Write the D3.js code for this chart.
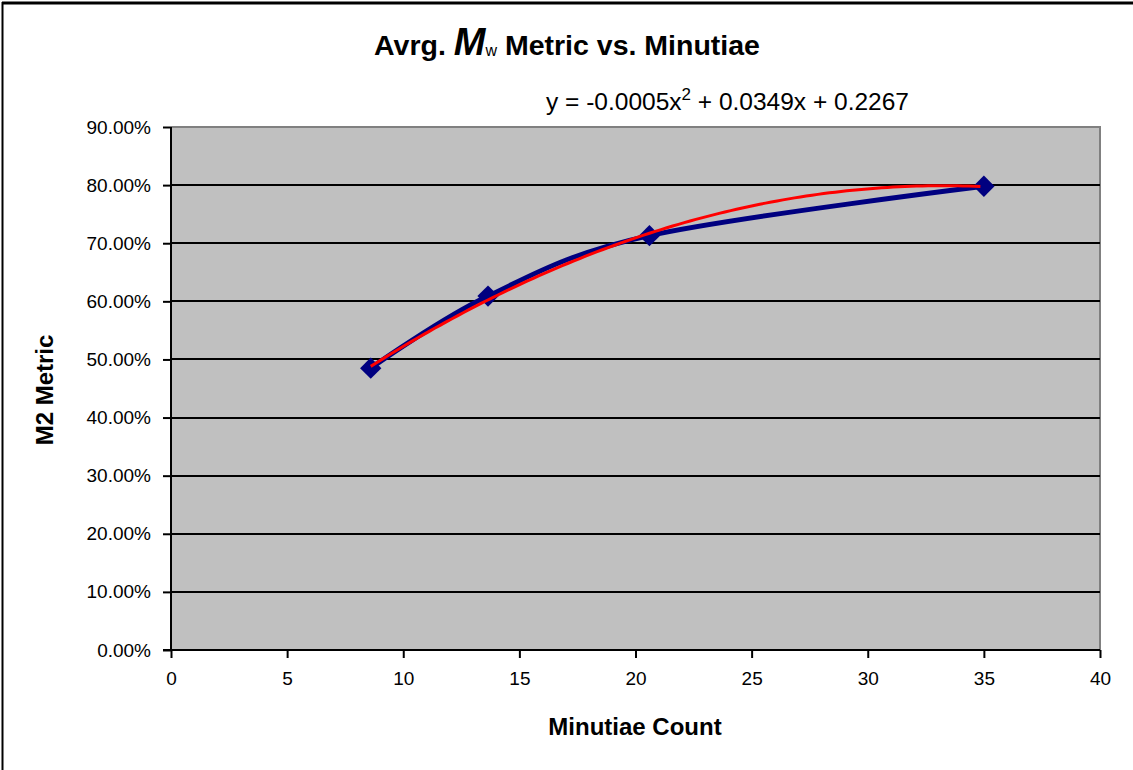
<!DOCTYPE html>
<html><head><meta charset="utf-8">
<script src="https://cdn.jsdelivr.net/npm/d3@7"></script>
<style>body{margin:0;background:#fff}svg{display:block;font-family:"Liberation Sans",Arial,sans-serif}</style>
</head><body>
<svg id="c" width="1133" height="770"></svg>
<script>
const minutiae = [8.6, 13.65, 20.6, 35.0];
const m2Metric = [0.485, 0.609, 0.713, 0.798];
const xTicks = [0, 5, 10, 15, 20, 25, 30, 35, 40];
const yTicks = [0, 0.1, 0.2, 0.3, 0.4, 0.5, 0.6, 0.7, 0.8, 0.9];
const equationText = ["y = -0.0005x", "2", " + 0.0349x + 0.2267"];

const svg = d3.select("#c");
const L = 171, R = 1100, T = 127, B = 650;
const x = d3.scaleLinear().domain([0, 40]).range([L, R]);
const y = d3.scaleLinear().domain([0, 0.9]).range([B, T]);

svg.append("line").attr("x1",2).attr("x2",1133).attr("y1",3).attr("y2",3).attr("stroke","#000").attr("stroke-width",3);
svg.append("line").attr("x1",2.5).attr("x2",2.5).attr("y1",2).attr("y2",770).attr("stroke","#000").attr("stroke-width",2);

svg.append("rect").attr("x",L).attr("y",T).attr("width",R-L).attr("height",B-T).attr("fill","#c0c0c0");
svg.append("path").attr("d",`M${L},${T}H${R}V${B}`).attr("fill","none").attr("stroke","#808080").attr("stroke-width",2);

svg.append("g").selectAll("line").data(yTicks.filter(d=>d>0 && d<0.9)).join("line")
  .attr("x1",L).attr("x2",R).attr("y1",d=>Math.round(y(d))).attr("y2",d=>Math.round(y(d)))
  .attr("stroke","#000").attr("stroke-width",2);

const yAxis = svg.append("g").attr("transform",`translate(${L},0)`)
  .call(d3.axisLeft(y).tickValues(yTicks).tickFormat(d=>(d*100).toFixed(2)+"%").tickSize(8).tickPadding(12));
yAxis.select(".domain").attr("stroke","#000").attr("stroke-width",2).attr("d",`M0,${T}V${B}`);
yAxis.selectAll(".tick line").attr("stroke","#000").attr("stroke-width",2);
yAxis.selectAll("text").attr("font-size",19).attr("fill","#000").attr("font-family","Liberation Sans, Arial, sans-serif");

const xAxis = svg.append("g").attr("transform",`translate(0,${B})`)
  .call(d3.axisBottom(x).tickValues(xTicks).tickSize(8).tickPadding(14));
xAxis.select(".domain").attr("stroke","#000").attr("stroke-width",2).attr("d",`M${L-8},0H${R}`);
xAxis.selectAll(".tick line").attr("stroke","#000").attr("stroke-width",2);
xAxis.selectAll("text").attr("font-size",19).attr("fill","#000").attr("font-family","Liberation Sans, Arial, sans-serif");

const pts = minutiae.map((v,i)=>[v, m2Metric[i]]);

const line = d3.line().x(d=>x(d[0])).y(d=>y(d[1])).curve(d3.curveCardinal.tension(0));
svg.append("path").datum(pts).attr("d",line).attr("fill","none").attr("stroke","#000080").attr("stroke-width",5);

svg.append("g").selectAll("path").data(pts).join("path")
  .attr("d",d3.symbol().type(d3.symbolDiamond2).size(290))
  .attr("transform",d=>`translate(${x(d[0])},${y(d[1])})`)
  .attr("fill","#000080");

function polyfit2(xs, ys){
  const n = xs.length; let S=[0,0,0,0,0], Sy=[0,0,0];
  for(let i=0;i<n;i++){ for(let k=0;k<5;k++) S[k]+=Math.pow(xs[i],k); for(let k=0;k<3;k++) Sy[k]+=ys[i]*Math.pow(xs[i],k); }
  const A=[[S[0],S[1],S[2],Sy[0]],[S[1],S[2],S[3],Sy[1]],[S[2],S[3],S[4],Sy[2]]];
  for(let i=0;i<3;i++){ for(let j=i+1;j<3;j++){ const f=A[j][i]/A[i][i]; for(let k=i;k<4;k++) A[j][k]-=f*A[i][k]; } }
  const c=[0,0,0];
  for(let i=2;i>=0;i--){ let s=A[i][3]; for(let k=i+1;k<3;k++) s-=A[i][k]*c[k]; c[i]=s/A[i][i]; }
  return c;
}
const c = polyfit2(minutiae, m2Metric);
const xs = d3.range(minutiae[0], minutiae[minutiae.length-1]+0.001, 0.25);
const trend = xs.map(v=>[v, c[0]+c[1]*v+c[2]*v*v]);
svg.append("path").datum(trend).attr("d",d3.line().x(d=>x(d[0])).y(d=>y(d[1])))
  .attr("fill","none").attr("stroke","#ff0000").attr("stroke-width",3);

const title = svg.append("text").attr("x",567).attr("y",55).attr("text-anchor","middle")
  .attr("font-size",28.5).attr("font-weight","bold").attr("fill","#000");
title.append("tspan").text("Avrg. ");
title.append("tspan").text("M").attr("font-style","italic").attr("font-size",38);
title.append("tspan").text("w").attr("font-size",16).attr("font-weight","normal").attr("dy",1);
title.append("tspan").text(" Metric vs. Minutiae").attr("dy",-1);

const eq = svg.append("text").attr("x",546).attr("y",110).attr("font-size",24.5).attr("fill","#000");
eq.append("tspan").text(equationText[0]);
eq.append("tspan").text(equationText[1]).attr("font-size",17).attr("dy",-10);
eq.append("tspan").text(equationText[2]).attr("dy",10);

svg.append("text").attr("x",635).attr("y",735).attr("text-anchor","middle").attr("font-size",24).attr("font-weight","bold").text("Minutiae Count");
svg.append("text").attr("transform","translate(53,390) rotate(-90)").attr("text-anchor","middle").attr("font-size",24).attr("font-weight","bold").text("M2 Metric");
</script>
</body></html>
